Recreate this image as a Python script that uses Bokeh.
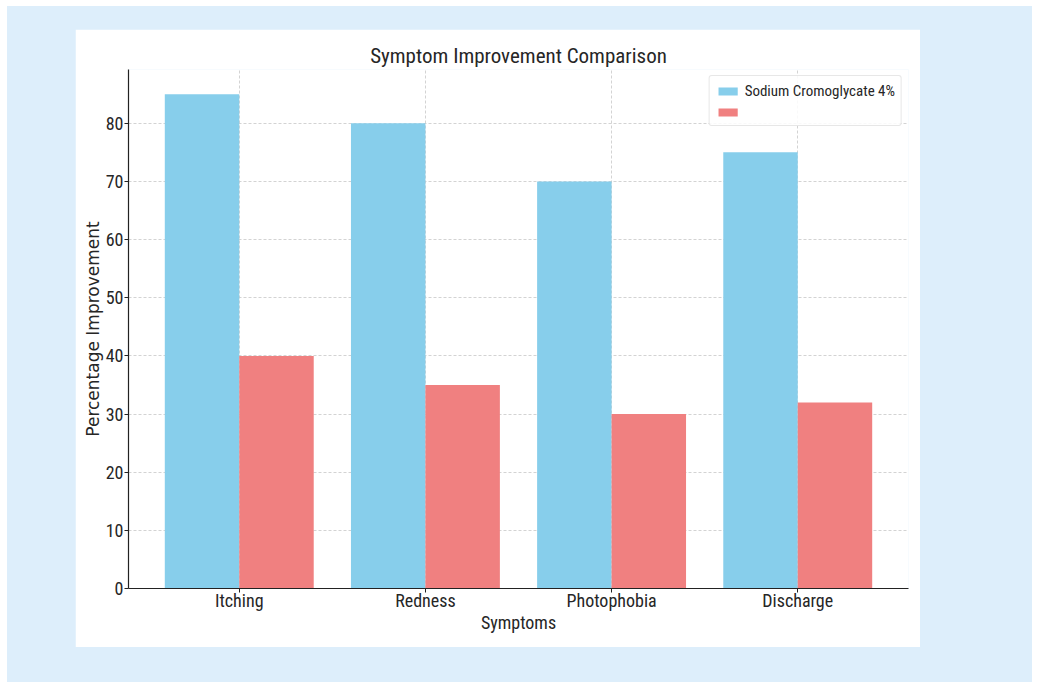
from bokeh.plotting import figure
from bokeh.layouts import column
from bokeh.models import ColumnDataSource, Range1d, FixedTicker, Legend, LegendItem
from bokeh.transform import dodge
from bokeh.embed import file_html
from bokeh.resources import INLINE

symptoms = ["Itching", "Redness", "Photophobia", "Discharge"]
cromoglycate = [85, 80, 70, 75]
other = [40, 35, 30, 32]
y_ticks = [0, 10, 20, 30, 40, 50, 60, 70, 80]

FONT = "Roboto Condensed"
TXT = "#262626"

xs = list(range(len(symptoms)))
src = ColumnDataSource(dict(x=xs, a=cromoglycate, b=other))

p = figure(width=845, height=618, output_backend="svg", toolbar_location=None,
           x_range=Range1d(-0.595, 3.595), y_range=Range1d(0, 89.25),
           title="Symptom Improvement Comparison",
           min_border_left=53, min_border_right=12, min_border_top=40, min_border_bottom=59)
p.margin = (23, 0, 0, 68)
p.background_fill_color = "white"
p.border_fill_color = "white"
p.outline_line_color = None

r1 = p.vbar(x=dodge("x", -0.2, range=p.x_range), top="a", width=0.4, source=src,
            fill_color="#87CEEB", line_color=None)
r2 = p.vbar(x=dodge("x", 0.2, range=p.x_range), top="b", width=0.4, source=src,
            fill_color="#F08080", line_color=None)

p.title.text_font = FONT
p.title.text_font_size = "21px"
p.title.text_font_style = "normal"
p.title.text_color = TXT
p.title.align = "center"
p.title.standoff = 4

p.xaxis.ticker = FixedTicker(ticks=xs)
p.xaxis.major_label_overrides = {i: s for i, s in enumerate(symptoms)}
p.yaxis.ticker = FixedTicker(ticks=y_ticks)
p.xaxis.axis_label = "Symptoms"
p.yaxis.axis_label = "Percentage Improvement"
for ax in (p.xaxis, p.yaxis):
    ax.axis_label_text_font = FONT
    ax.axis_label_text_font_size = "18px"
    ax.axis_label_text_font_style = "normal"
    ax.axis_label_text_color = TXT
    ax.major_label_text_font = FONT
    ax.major_label_text_font_size = "18px"
    ax.major_label_text_color = TXT
    ax.axis_line_color = "#222222"
    ax.axis_line_width = 1.2
    ax.major_tick_line_color = "#222222"
    ax.major_tick_out = 4
    ax.major_tick_in = 0
    ax.minor_tick_line_color = None
p.xaxis.major_label_standoff = -3
p.xaxis.axis_label_standoff = -2
p.yaxis.major_label_standoff = 1
p.yaxis.axis_label_standoff = 0
p.yaxis.axis_label_text_font = "DejaVu Sans"
p.yaxis.axis_label_text_font_size = "17px"

p.xgrid.ticker = FixedTicker(ticks=xs)
p.ygrid.ticker = FixedTicker(ticks=y_ticks)
for g in (p.xgrid, p.ygrid):
    g.grid_line_color = "#c8c8c8"
    g.grid_line_dash = "3 2"
    g.grid_line_width = 0.8

legend = Legend(items=[LegendItem(label="Sodium Cromoglycate 4%", renderers=[r1]),
                       LegendItem(label=" ", renderers=[r2])],
                location="top_right")
legend.label_text_font = FONT
legend.label_text_font_size = "15px"
legend.label_text_color = TXT
legend.glyph_width = 24
legend.glyph_height = 10
legend.label_height = 14
legend.spacing = 5
legend.padding = 6
legend.margin = 6
legend.border_line_color = "#d0d0d0"
legend.border_radius = 3
legend.background_fill_alpha = 0.85
p.add_layout(legend)

layout = column(p, width=1025, height=676, margin=(6, 0, 0, 7),
                styles={"background-color": "#DDEEFB"})

open("out.html", "w").write(file_html(layout, INLINE))
